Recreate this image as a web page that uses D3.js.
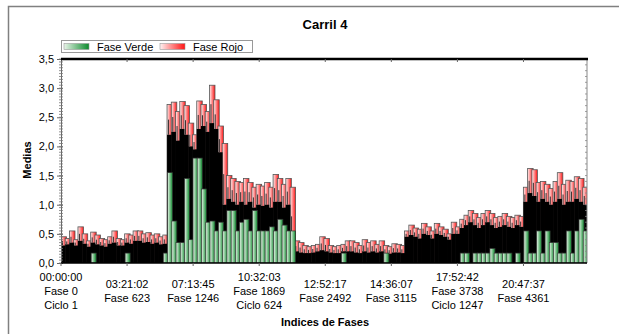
<!DOCTYPE html>
<html>
<head>
<meta charset="utf-8">
<script src="https://cdn.jsdelivr.net/npm/d3@7/dist/d3.min.js"></script>
<style>
body { margin: 0; background: #fff; }
svg text { font-family: "Liberation Sans", Arial, sans-serif; }
</style>
</head>
<body>
<div class="chart"></div>
<script>
// medias per bloque de 40 fases (124 bloques = 4960 fases)
const faseBloque = 40;
const mediaRojo = [
  0.45,0.42,0.55,0.40,0.62,0.50,0.38,0.53,0.48,0.42,0.40,0.45,0.55,0.42,0.40,0.50,0.48,0.55,0.55,0.50,0.52,0.48,0.50,0.45,0.48,
  2.72,2.76,2.60,2.77,2.70,2.40,2.20,2.78,2.72,2.60,3.05,2.80,2.35,2.05,
  1.50,1.45,1.40,1.38,1.45,1.38,1.30,1.35,1.32,1.38,1.30,1.52,1.45,1.35,1.45,1.30,
  0.38,0.35,0.30,0.28,0.30,0.32,0.45,0.42,0.30,0.28,0.30,0.32,0.38,0.38,0.35,0.30,0.40,0.35,0.38,0.32,0.38,0.30,0.28,0.33,0.32,0.30,
  0.55,0.65,0.60,0.58,0.68,0.62,0.55,0.68,0.62,0.58,0.50,0.70,0.62,
  0.75,0.82,0.90,0.85,0.78,0.85,0.90,0.85,0.78,0.80,0.85,0.80,0.78,0.82,0.80,
  1.30,1.62,1.60,1.38,1.40,1.35,1.28,1.40,1.55,1.35,1.42,1.40,1.48,1.45,1.30
];
// nivel donde la masa de fases se ve negra
const mediaFondo = [
  0.30,0.32,0.35,0.30,0.38,0.33,0.28,0.35,0.32,0.30,0.28,0.33,0.35,0.30,0.30,0.35,0.33,0.38,0.38,0.35,0.36,0.33,0.35,0.32,0.33,
  2.20,2.25,2.10,2.30,2.20,2.00,1.95,2.30,2.35,2.25,2.40,2.30,1.90,1.00,
  1.10,1.05,1.00,1.05,1.00,1.05,0.95,1.00,0.98,1.00,0.95,1.05,1.05,0.95,1.00,0.30,
  0.20,0.18,0.17,0.17,0.18,0.20,0.22,0.20,0.18,0.17,0.17,0.20,0.20,0.20,0.18,0.17,0.20,0.18,0.20,0.18,0.20,0.17,0.16,0.18,0.18,0.17,
  0.45,0.48,0.45,0.42,0.50,0.48,0.42,0.50,0.48,0.45,0.40,0.50,0.50,
  0.60,0.65,0.70,0.65,0.60,0.65,0.70,0.65,0.60,0.62,0.65,0.62,0.60,0.65,0.62,
  1.05,1.20,1.15,1.05,1.10,1.05,1.00,1.05,1.10,1.00,1.05,1.05,1.10,1.05,1.00
];
const mediaVerde = [
  0,0,0,0,0,0,0,0.17,0,0,0,0,0,0,0,0.17,0,0,0,0,0,0,0,0,0.17,
  1.55,0.72,0.35,0.35,1.45,0.40,1.80,1.80,1.27,0.70,0.72,0.55,0.70,0.55,
  0.90,0.90,0.55,0.70,0.75,0.55,0.90,0.55,0.55,0.55,0.62,0.55,0.75,0.65,0.55,0.55,
  0,0,0,0,0,0,0,0,0,0,0,0.17,0,0,0,0,0,0,0,0,0,0.17,0,0,0,0,
  0,0,0,0,0,0,0,0,0,0,0,0,0,
  0.17,0.17,0,0.17,0.17,0.17,0.17,0.25,0.17,0.17,0.17,0.17,0,0.17,0,
  0.55,0.17,0.17,0.55,0.17,0.55,0.35,0.35,0.17,0.17,0.55,0.17,0.55,0.75,0.55
];

const tickFases = [0, 623, 1246, 1869, 2492, 3115, 3738, 4361];
const tickHoras = ["00:00:00","03:21:02","07:13:45","10:32:03","12:52:17","14:36:07","17:52:42","20:47:37"];
const tickCiclos = ["Ciclo 1","","","Ciclo 624","","","Ciclo 1247",""];
const yTicks = [0, 0.5, 1, 1.5, 2, 2.5, 3, 3.5];

svgwidth = 619;
svgheight = 334;
margin = {top: 59, right: 32, bottom: 71, left: 61};
mywidth = svgwidth - margin.left - margin.right;
myheight = svgheight - margin.top - margin.bottom;

svg = d3.select('.chart')
  .append("svg")
  .attr("width", svgwidth)
  .attr("height", svgheight);

// marco exterior
svg.append("rect")
  .attr("x", 8.5).attr("y", 6.5)
  .attr("width", 700).attr("height", 400)
  .attr("fill", "#fff").attr("stroke", "#808080").attr("stroke-width", 1.5);

defs = svg.append("defs");
gRojo = defs.append("linearGradient").attr("id", "gRojo");
gRojo.append("stop").attr("offset", "0%").attr("stop-color", "#fff2f2");
gRojo.append("stop").attr("offset", "100%").attr("stop-color", "#ff1414");
gVerde = defs.append("linearGradient").attr("id", "gVerde");
gVerde.append("stop").attr("offset", "0%").attr("stop-color", "#e8f4e8");
gVerde.append("stop").attr("offset", "100%").attr("stop-color", "#0c8a2c");

g = svg.append("g")
  .attr("transform", "translate(" + margin.left + "," + margin.top + ")");

posX = d3.scaleLinear().domain([0, 4960]).range([0, mywidth]);
posY = d3.scaleLinear().domain([0, 3.5]).range([myheight, 0]);

barW = posX(faseBloque) * 1.3;

g.append("clipPath").attr("id", "clip")
  .append("rect").attr("width", mywidth).attr("height", myheight);

plot = g.append("g").attr("clip-path", "url(#clip)");

// fases rojas
plot.selectAll(".rojo")
  .data(mediaRojo)
  .enter()
  .append("rect")
    .attr("class", "rojo")
    .attr("x", function(d, i) { return posX(i * faseBloque); })
    .attr("y", function(d) { return posY(d); })
    .attr("width", barW)
    .attr("height", function(d) { return myheight - posY(d); })
    .attr("fill", "url(#gRojo)")
    .attr("stroke", "#555")
    .attr("stroke-width", 0.8);

// masa negra de bordes superpuestos
plot.selectAll(".fondo")
  .data(mediaFondo)
  .enter()
  .append("rect")
    .attr("class", "fondo")
    .attr("x", function(d, i) { return posX(i * faseBloque); })
    .attr("y", function(d) { return posY(d); })
    .attr("width", posX(faseBloque) + 0.4)
    .attr("height", function(d) { return myheight - posY(d); })
    .attr("fill", "#000");

// bordes sueltos que sobresalen de la masa negra
plot.selectAll(".borde")
  .data(mediaFondo)
  .enter()
  .append("line")
    .attr("x1", function(d, i) { return posX(i * faseBloque) + 1.5; })
    .attr("x2", function(d, i) { return posX(i * faseBloque) + 1.5; })
    .attr("y1", function(d) { return posY(d); })
    .attr("y2", function(d, i) { return posY((d + mediaRojo[i]) / 2); })
    .attr("stroke", "#222").attr("stroke-width", 0.9);

// fases verdes
verdes = mediaVerde.map(function(v, i) { return {i: i, v: v}; })
  .filter(function(d) { return d.v > 0; });
plot.selectAll(".verde")
  .data(verdes)
  .enter()
  .append("rect")
    .attr("class", "verde")
    .attr("x", function(d) { return posX(d.i * faseBloque) + 0.5; })
    .attr("y", function(d) { return posY(d.v); })
    .attr("width", posX(faseBloque) + 0.8)
    .attr("height", function(d) { return myheight - posY(d.v); })
    .attr("fill", "url(#gVerde)")
    .attr("stroke", "#333")
    .attr("stroke-width", 0.7);

// ejes
yAxis = g.append("g")
  .call(d3.axisLeft(posY).tickValues(yTicks).tickSize(4)
    .tickFormat(function(d) { return d3.format(".1f")(d).replace(".", ","); }));
yAxis.select(".domain").attr("stroke", "#666");
yAxis.selectAll(".tick line").attr("stroke", "#666").attr("x2", -4).attr("x1", 2);
yAxis.selectAll("text").attr("font-size", 11).attr("fill", "#000").attr("x", -7);

yMinor = d3.range(0, 3.5001, 0.05);
g.selectAll(".yminor")
  .data(yMinor)
  .enter()
  .append("line")
    .attr("x1", -2).attr("x2", 2)
    .attr("y1", function(d) { return posY(d); })
    .attr("y2", function(d) { return posY(d); })
    .attr("stroke", "#777").attr("stroke-width", 0.8);

// eje derecho
g.append("line")
  .attr("x1", mywidth).attr("x2", mywidth).attr("y1", 0).attr("y2", myheight)
  .attr("stroke", "#888");
g.selectAll(".rminor")
  .data(d3.range(0, 3.5001, 0.1))
  .enter()
  .append("line")
    .attr("x1", mywidth - 2).attr("x2", mywidth)
    .attr("y1", function(d) { return posY(d); })
    .attr("y2", function(d) { return posY(d); })
    .attr("stroke", "#888").attr("stroke-width", 0.8);

// borde superior
g.append("line")
  .attr("x1", 0).attr("x2", mywidth + 1).attr("y1", 0).attr("y2", 0)
  .attr("stroke", "#000").attr("stroke-width", 2.5);
g.selectAll(".ttick")
  .data(tickFases.slice(1))
  .enter()
  .append("line")
    .attr("x1", function(d) { return posX(d); })
    .attr("x2", function(d) { return posX(d); })
    .attr("y1", 0).attr("y2", 3)
    .attr("stroke", "#666");

// eje inferior
g.append("line")
  .attr("x1", 0).attr("x2", mywidth).attr("y1", myheight).attr("y2", myheight)
  .attr("stroke", "#000").attr("stroke-width", 1.5);
g.selectAll(".btick")
  .data(tickFases)
  .enter()
  .append("line")
    .attr("x1", function(d) { return posX(d); })
    .attr("x2", function(d) { return posX(d); })
    .attr("y1", myheight).attr("y2", myheight + 3)
    .attr("stroke", "#666");

xlab = g.selectAll(".xlab")
  .data(tickFases)
  .enter()
  .append("text")
    .attr("class", "xlab")
    .attr("text-anchor", "middle")
    .attr("font-size", 11)
    .attr("transform", function(d, i) {
      var y0 = tickCiclos[i] ? myheight + 18 : myheight + 25;
      return "translate(" + posX(d) + "," + y0 + ")";
    });
xlab.append("tspan").attr("x", 0).attr("dy", 0).text(function(d, i) { return tickHoras[i]; });
xlab.append("tspan").attr("x", 0).attr("dy", 14).text(function(d) { return "Fase " + d; });
xlab.append("tspan").attr("x", 0).attr("dy", 14).text(function(d, i) { return tickCiclos[i]; });

// titulos
svg.append("text")
  .attr("x", 325).attr("y", 29)
  .attr("text-anchor", "middle")
  .attr("font-size", 13).attr("font-weight", "bold")
  .text("Carril 4");
svg.append("text")
  .attr("x", 325).attr("y", 326)
  .attr("text-anchor", "middle")
  .attr("font-size", 11).attr("font-weight", "bold")
  .text("Indices de Fases");
svg.append("text")
  .attr("transform", "translate(31,160) rotate(-90)")
  .attr("text-anchor", "middle")
  .attr("font-size", 11).attr("font-weight", "bold")
  .text("Medias");

// leyenda
leg = svg.append("g");
leg.append("rect")
  .attr("x", 61.5).attr("y", 40.5).attr("width", 191).attr("height", 12)
  .attr("fill", "#fff").attr("stroke", "#999");
leyenda = [{n: "Fase Verde", f: "url(#gVerde)", x: 64}, {n: "Fase Rojo", f: "url(#gRojo)", x: 160}];
leg.selectAll(".sw")
  .data(leyenda)
  .enter()
  .append("rect")
    .attr("x", function(d) { return d.x; })
    .attr("y", 43.5).attr("width", 25).attr("height", 6)
    .attr("fill", function(d) { return d.f; })
    .attr("stroke", "#999").attr("stroke-width", 0.6);
leg.selectAll(".lt")
  .data(leyenda)
  .enter()
  .append("text")
    .attr("x", function(d) { return d.x + 33; })
    .attr("y", 50.5)
    .attr("font-size", 11)
    .text(function(d) { return d.n; });
</script>
</body>
</html>
